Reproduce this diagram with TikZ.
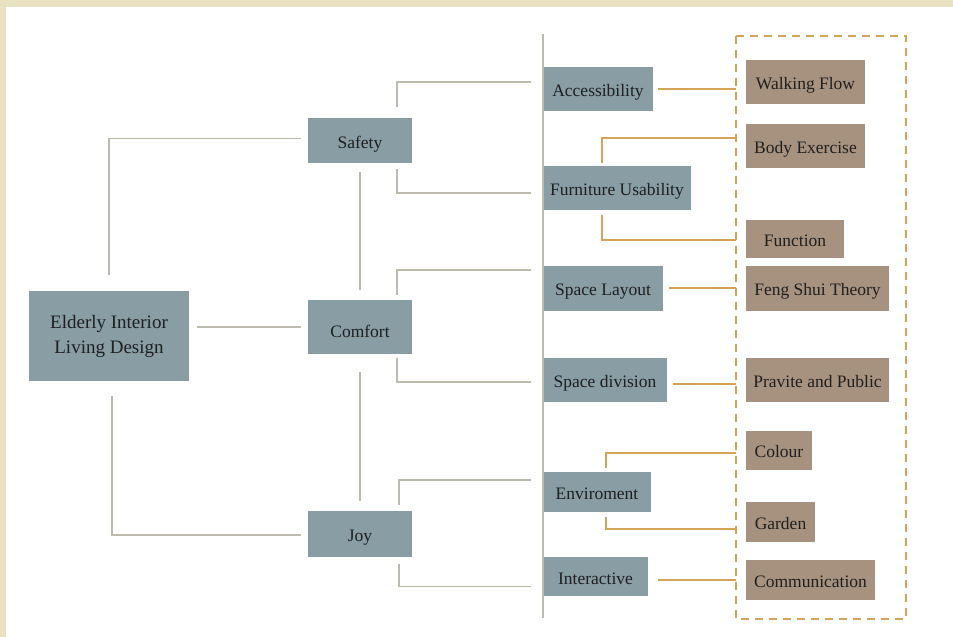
\documentclass[tikz,border=0pt]{standalone}
\usepackage{fontspec}
\setmainfont{Liberation Serif}
\usetikzlibrary{calc}

\definecolor{boxblue}{RGB}{136,157,164}
\definecolor{boxbrown}{RGB}{167,146,127}
\definecolor{linegray}{RGB}{188,187,172}
\definecolor{linegold}{RGB}{212,165,88}
\definecolor{framebeige}{RGB}{232,226,195}

\begin{document}
\begin{tikzpicture}[x=1pt,y=-1pt,aspect/.style={fill=boxblue, text=black!88, inner sep=0pt,
            text height=15pt, text depth=0pt, font=\fontsize{17.5}{21}\selectfont},
            detail/.style={fill=boxbrown, text=black!88, inner sep=0pt,
            text height=15pt, text depth=0pt, font=\fontsize{17.5}{21}\selectfont},
            graylink/.style={draw=linegray, line width=1.6pt},
            goldlink/.style={draw=linegold, line width=1.6pt},
            elbow/.style={to path={|- (\tikztotarget)}}]
            \useasboundingbox (0,0) rectangle (953,637);
            \fill[framebeige] (0,0) rectangle (953,7);
            \fill[framebeige] (0,0) rectangle (6,637);

            \node[aspect, minimum width=160pt, minimum height=90pt, align=center, text height=, text depth=,
                font=\fontsize{19}{25}\selectfont] (eld) at (109,336) {Elderly Interior\\Living Design};

            \node[aspect, minimum width=104pt, minimum height=45pt] (saf) at (360,140.5) {Safety};
            \node[aspect, minimum width=104pt, minimum height=54pt, text height=21pt] (com) at (360,327) {Comfort};
            \node[aspect, minimum width=104pt, minimum height=46pt] (joy) at (360,534) {Joy};

            \node[aspect, minimum width=110pt, minimum height=44pt] (acc) at (598,89) {Accessibility};
            \node[aspect, minimum width=148pt, minimum height=44pt] (fur) at (617,188) {Furniture Usability};
            \node[aspect, minimum width=120pt, minimum height=45pt] (lay) at (603,288) {Space Layout};
            \node[aspect, minimum width=124pt, minimum height=44pt] (div) at (605,380) {Space division};
            \node[aspect, minimum width=108pt, minimum height=40pt] (env) at (597,492) {Enviroment};
            \node[aspect, minimum width=105pt, minimum height=39pt] (int) at (595.5,576.5) {Interactive};

            \node[detail, minimum width=119pt, minimum height=44pt] (wal) at (805.5,82) {Walking Flow};
            \node[detail, minimum width=119pt, minimum height=44pt] (bod) at (805.5,146) {Body Exercise};
            \node[detail, minimum width=98pt, minimum height=38pt] (fun) at (795,238.5) {Function};
            \node[detail, minimum width=143pt, minimum height=45pt] (fen) at (817.5,288) {Feng Shui Theory};
            \node[detail, minimum width=143pt, minimum height=44pt] (pra) at (817.5,380) {Pravite and Public};
            \node[detail, minimum width=66pt, minimum height=39pt] (col) at (779,450) {Colour};
            \node[detail, minimum width=69pt, minimum height=40pt] (gar) at (780.5,521.5) {Garden};
            \node[detail, minimum width=129pt, minimum height=40pt] (cmm) at (810.5,580) {Communication};

            \coordinate (bustop) at (543,34);
            \coordinate (busbot) at (543,618);
            \draw[draw=linegold, line width=2pt, dash pattern=on 8pt off 6pt] (736,36) rectangle (906,619);

            \path[graylink, line width=1.4pt] (bustop) edge (busbot);

            \path[graylink] ($(eld.north)+(0,-16)$) edge[elbow] ($(saf.west)+(-7,-2)$);
            \path[graylink] ($(eld.east |- com.west)+(8,0)$) edge ($(com.west)+(-7,0)$);
            \path[graylink] ($(eld.south)+(3,15)$) edge[elbow] ($(joy.west)+(-7,1)$);
            \path[graylink] ($(saf.south)+(0,9)$) edge ($(com.north)+(0,-10)$);
            \path[graylink] ($(com.south)+(0,18)$) edge ($(joy.north)+(0,-10)$);

            \path[graylink] ($(saf.north east)+(-15,-11)$) edge[elbow] ($(acc.west)+(-12,-7)$);
            \path[graylink] ($(saf.south east)+(-15,6)$) edge[elbow] ($(fur.west)+(-12,5)$);
            \path[graylink] ($(com.north east)+(-15,-5)$) edge[elbow] ($(lay.west)+(-12,-18)$);
            \path[graylink] ($(com.south east)+(-15,4)$) edge[elbow] ($(div.west)+(-12,2)$);
            \path[graylink] ($(joy.north east)+(-13,-6)$) edge[elbow] ($(env.west)+(-12,-12)$);
            \path[graylink] ($(joy.south east)+(-13,7)$) edge[elbow] ($(int.west)+(-12,10)$);

            \path[goldlink] ($(acc.east)+(5,0)$) edge ($(wal.west)+(-10,7)$);
            \path[goldlink] ($(fur.north)+(-15,-3)$) edge[elbow] ($(bod.west)+(-10,-8)$);
            \path[goldlink] ($(fur.south)+(-15,5)$) edge[elbow] ($(fun.west)+(-10,1.5)$);
            \path[goldlink] ($(lay.east)+(6,0)$) edge ($(fen.west)+(-10,0)$);
            \path[goldlink] ($(div.east)+(6,4)$) edge ($(pra.west)+(-10,4)$);
            \path[goldlink] ($(env.north)+(9,-4)$) edge[elbow] ($(col.west)+(-10,3)$);
            \path[goldlink] ($(env.south)+(9,5)$) edge[elbow] ($(gar.west)+(-10,7.5)$);
            \path[goldlink] ($(int.east)+(10,3.5)$) edge ($(cmm.west)+(-10,0)$);

        \end{tikzpicture}
\end{document}
